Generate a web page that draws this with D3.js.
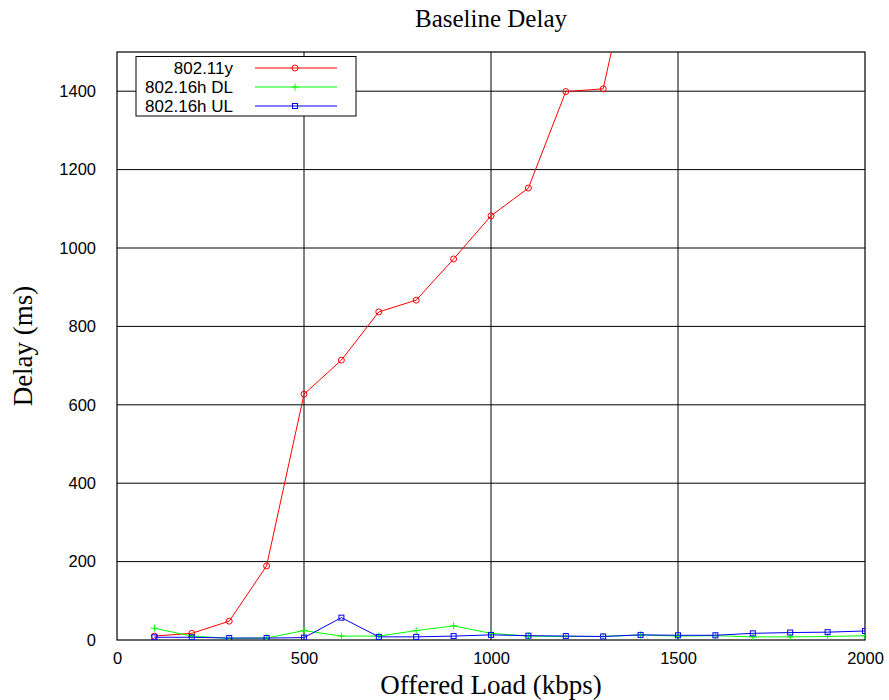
<!DOCTYPE html>
<html><head><meta charset="utf-8">
<script src="https://cdn.jsdelivr.net/npm/d3@7"></script>
<style>body{margin:0;background:#fff}</style>
</head><body>
<script>
const loads = [100,200,300,400,500,600,700,800,900,1000,1100,1200,1300,1400,1500,1600,1700,1800,1900,2000];
const y80211 = [10,17,48,189,627,714,837,867,972,1082,1153,1399,1406,1840];
const dl16h = [30,10,4,5,24,10,10,24,36,17,10,9,9,13,10,11,8,8,9,11];
const ul16h = [7,7,5,5,6,57,8,8,10,13,11,10,9,13,12,12,17,19,20,23];
const xTicks = [0,500,1000,1500,2000];
const yTicks = [0,200,400,600,800,1000,1200,1400];
const seriesNames = ["802.11y","802.16h DL","802.16h UL"];
const seriesColors = ["#ff0000","#00ff00","#0000ff"];

const W=889,H=700;
const m={l:117,r:24,t:52,b:60};
const svg=d3.select("body").append("svg").attr("width",W).attr("height",H);
const x=d3.scaleLinear().domain([0,2000]).range([m.l,W-m.r]);
const y=d3.scaleLinear().domain([0,1500]).range([H-m.b,m.t]);

svg.append("defs").append("clipPath").attr("id","clip").append("rect")
  .attr("x",m.l).attr("y",m.t).attr("width",W-m.r-m.l).attr("height",H-m.b-m.t);

// grid
svg.append("g").selectAll("line").data(yTicks.slice(1)).join("line")
  .attr("x1",m.l).attr("x2",W-m.r).attr("y1",d=>y(d)).attr("y2",d=>y(d))
  .attr("stroke","#000").attr("stroke-width",1);
svg.append("g").selectAll("line").data(xTicks.slice(1,-1)).join("line")
  .attr("y1",m.t).attr("y2",H-m.b).attr("x1",d=>x(d)).attr("x2",d=>x(d))
  .attr("stroke","#000").attr("stroke-width",1);

// frame
svg.append("rect").attr("x",m.l).attr("y",m.t).attr("width",W-m.r-m.l).attr("height",H-m.b-m.t)
  .attr("fill","none").attr("stroke","#000").attr("stroke-width",1.2);

const sans="Liberation Sans, Arial, sans-serif";
const serif="Liberation Serif, Times New Roman, serif";
// axes labels
const xa=d3.axisBottom(x).tickValues(xTicks).tickFormat(d3.format("d")).tickSize(0).tickPadding(12);
const gx=svg.append("g").attr("transform",`translate(0,${H-m.b})`).call(xa);
gx.select(".domain").remove();
gx.selectAll("text").attr("font-family",sans).attr("font-size",16.5).attr("fill","#000");
const ya=d3.axisLeft(y).tickValues(yTicks).tickFormat(d3.format("d")).tickSize(0).tickPadding(21);
const gy=svg.append("g").attr("transform",`translate(${m.l},0)`).call(ya);
gy.select(".domain").remove();
gy.selectAll("text").attr("font-family",sans).attr("font-size",16.5).attr("fill","#000");

// titles
svg.append("text").attr("x",(m.l+W-m.r)/2).attr("y",27).attr("text-anchor","middle")
  .attr("font-family",serif).attr("font-size",25).text("Baseline Delay");
svg.append("text").attr("x",(m.l+W-m.r)/2).attr("y",694).attr("text-anchor","middle")
  .attr("font-family",serif).attr("font-size",27).text("Offered Load (kbps)");
svg.append("text").attr("transform",`translate(32,${(m.t+H-m.b)/2}) rotate(-90)`).attr("text-anchor","middle")
  .attr("font-family",serif).attr("font-size",27).text("Delay (ms)");

const data=[y80211,dl16h,ul16h];
const line=d3.line().x((d,i)=>x(loads[i])).y(d=>y(d));
function marker(g,type,cx,cy,color){
  if(type===0){
    g.append("circle").attr("cx",cx).attr("cy",cy).attr("r",3).attr("fill","none").attr("stroke",color).attr("stroke-width",1);
  } else if(type===1){
    g.append("path").attr("d",`M${cx-3.5},${cy}H${cx+3.5}M${cx},${cy-3.5}V${cy+3.5}`).attr("stroke",color).attr("stroke-width",1);
  } else {
    g.append("rect").attr("x",cx-2.5).attr("y",cy-2.5).attr("width",5).attr("height",5).attr("fill","none").attr("stroke",color).attr("stroke-width",1);
  }
}
const plot=svg.append("g").attr("clip-path","url(#clip)");
data.forEach((s,k)=>{
  plot.append("path").datum(s).attr("d",line).attr("fill","none").attr("stroke",seriesColors[k]).attr("stroke-width",1);
  const mg=plot.append("g");
  s.forEach((v,i)=>marker(mg,k,x(loads[i]),y(v),seriesColors[k]));
});

// legend
const lg=svg.append("g");
lg.append("rect").attr("x",136).attr("y",56.5).attr("width",220).attr("height",59.5).attr("fill","#fff").attr("stroke","#000").attr("stroke-width",1);
seriesNames.forEach((n,k)=>{
  const yy=68+k*19;
  lg.append("text").attr("x",233).attr("y",yy+5.5).attr("text-anchor","end")
    .attr("font-family",sans).attr("font-size",17).text(n);
  lg.append("line").attr("x1",255).attr("x2",337).attr("y1",yy).attr("y2",yy).attr("stroke",seriesColors[k]).attr("stroke-width",1);
  marker(lg,k,295,yy,seriesColors[k]);
});
</script>
</body></html>
